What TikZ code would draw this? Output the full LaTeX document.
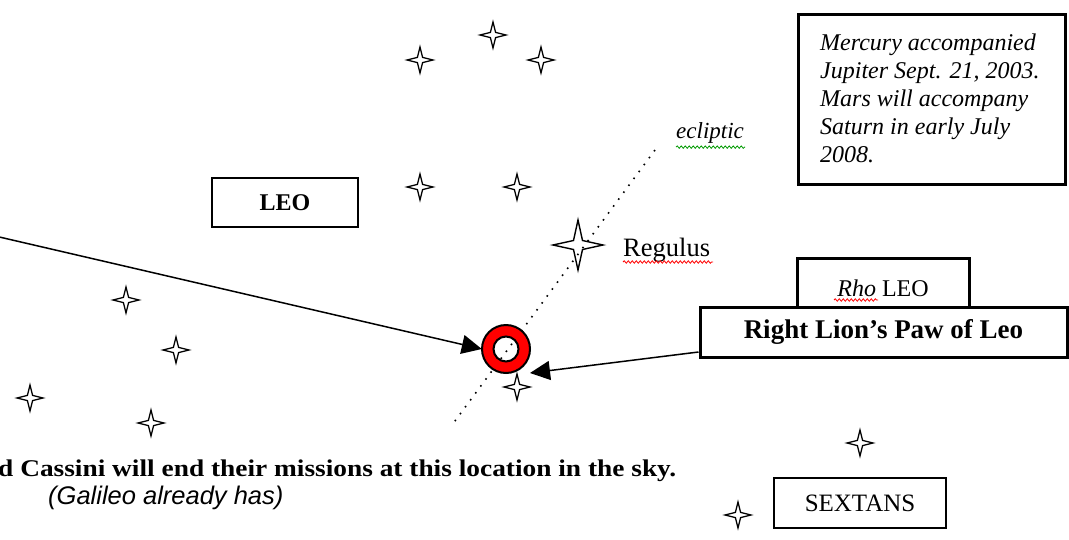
\documentclass[tikz,border=0pt]{standalone}
\usepackage{fontspec}
\setmainfont{Liberation Serif}
\newfontfamily\sansit{Liberation Sans}
\usetikzlibrary{arrows.meta,decorations.pathmorphing}
\tikzset{
  sstar/.pic={\draw[line width=1.3pt, fill=white] (13,0)--(2.6,2.6)--(0,13)--(-2.6,2.6)--(-13,0)--(-2.6,-2.6)--(0,-13)--(2.6,-2.6)--cycle;},
  bstar/.pic={\draw[line width=1.4pt, fill=white] (25,0)--(4.5,4.5)--(0,25)--(-4.5,4.5)--(-25,0)--(-4.5,-4.5)--(0,-25)--(4.5,-4.5)--cycle;},
  thinbox/.style={draw, line width=1.5pt, inner sep=0pt},
  thickbox/.style={draw, line width=3pt, inner sep=0pt, fill=white},
  arr/.style={line width=1.5pt, -{Triangle[length=20pt,width=19pt]}},
  wavy/.style={line width=0.8pt, decorate, decoration={snake, amplitude=1.2pt, segment length=4pt}},
}
\begin{document}
\begin{tikzpicture}[x=1pt,y=-1pt]
\useasboundingbox (0,0) rectangle (1069,539);
% stars
\pic at (420,60) {sstar};
\pic at (493,35) {sstar};
\pic at (541,60) {sstar};
\pic at (420,187) {sstar};
\pic at (517,187) {sstar};
\pic at (126,300) {sstar};
\pic at (176,350) {sstar};
\pic at (30,398) {sstar};
\pic at (151,423) {sstar};
\pic at (517,387) {sstar};
\pic at (860,443) {sstar};
\pic at (738,515) {sstar};
\pic at (578,245) {bstar};
% ecliptic
\coordinate (ecl1) at (655,150);
\coordinate (ecl2) at (452,425);
\draw[line width=1.6pt, dash pattern=on 1.6pt off 7pt] (ecl1) -- (ecl2);
\node[anchor=base west, inner sep=0pt, font=\fontsize{23}{27}\selectfont\itshape] (ecltext) at (676,138) {ecliptic};
\draw[wavy, green!60!black] (ecltext.south west) ++(0,4) -- ++(69,0);
% Regulus
\node[anchor=base west, inner sep=0pt, font=\fontsize{26.5}{30}\selectfont] (reg) at (623,256) {Regulus};
\draw[wavy, red] (623,262) -- (713,262);
% ring
\node[circle, minimum size=48pt, inner sep=0pt] (ring) at (506,349) {};
\fill[red, even odd rule] (ring.center) circle (24) (ring.center) circle (12.5);
\draw[line width=2pt] (ring.center) circle (24) (ring.center) circle (12.5);
% boxes
\node[thickbox, minimum width=267pt, minimum height=170pt] (merc) at (931.5,99) {};
\node[anchor=north west, inner sep=0pt, align=left, font=\fontsize{24}{28}\selectfont\itshape] (merctext) at (820,34) {Mercury accompanied\\Jupiter Sept. 21, 2003.\\Mars will accompany\\Saturn in early July\\2008.};
\node[thinbox, minimum width=146pt, minimum height=49pt, font=\fontsize{24}{28}\selectfont\bfseries] (leo) at (285,202.5) {LEO};
\node[thickbox, minimum width=172pt, minimum height=49pt] (rho) at (883,283) {};
\node[anchor=base, inner sep=0pt, font=\fontsize{24}{28}\selectfont] (rhotext) at (883,296) {\textit{Rho} LEO};
\draw[wavy, red] (834,300) -- (878,300);
\node[thickbox, minimum width=367pt, minimum height=50pt, font=\fontsize{27}{30}\selectfont\bfseries] (paw) at (883.5,332) {Right Lion’s Paw of Leo};
\node[thinbox, minimum width=172pt, minimum height=50pt, font=\fontsize{25}{29}\selectfont] (sextans) at (860,503) {SEXTANS};
% bottom texts
\node[anchor=base west, inner sep=0pt, font=\fontsize{24}{28}\selectfont\bfseries] (caption) at (-2,476) {\scalebox{1.14}[1]{d Cassini will end their missions at this location in the sky.}};
\node[anchor=base west, inner sep=0pt, font=\fontsize{25.5}{29}\selectfont\sansit\itshape] (galileo) at (48,504) {(Galileo already has)};
% arrows
\coordinate (leftend) at (-5,236);
\coordinate (pawtip) at (530,373);
\draw[arr] (leftend) -- (ring.west);
\draw[arr] ([yshift=-20pt]paw.west) -- (pawtip);
\end{tikzpicture}
\end{document}
